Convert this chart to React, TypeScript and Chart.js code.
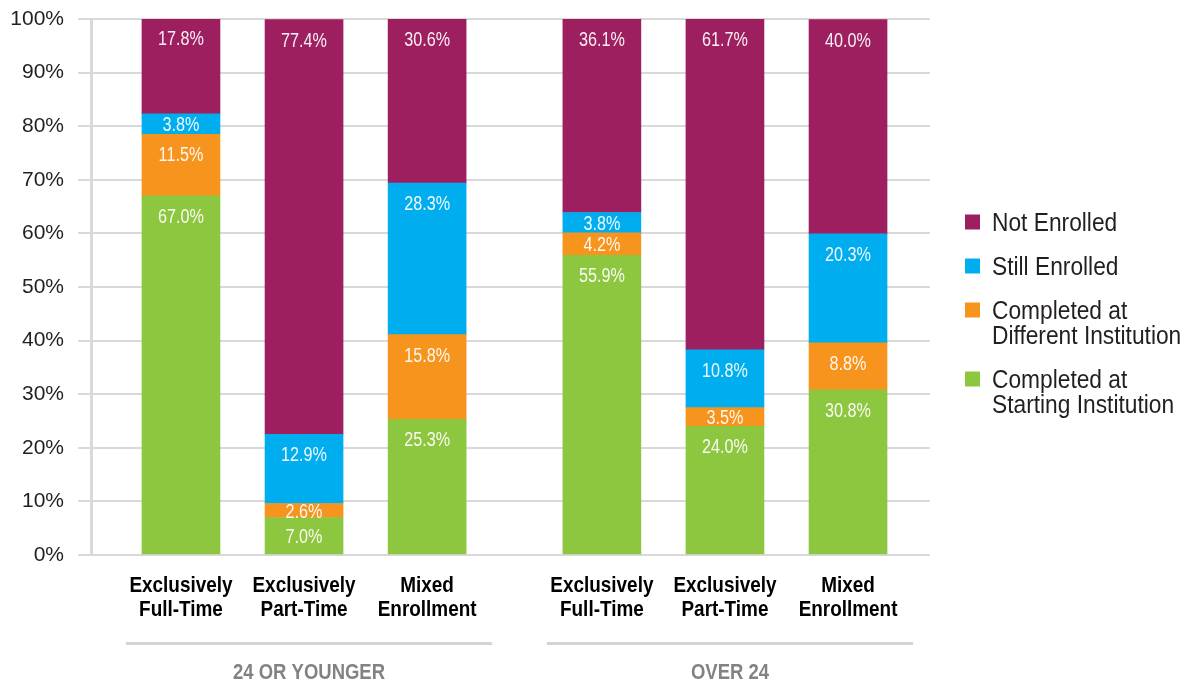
import React, { useEffect, useRef } from "react";
import { Chart, registerables } from "chart.js";

Chart.register(...registerables);

const categories: string[][] = [
  ["Exclusively", "Full-Time"],
  ["Exclusively", "Part-Time"],
  ["Mixed", "Enrollment"],
  ["Exclusively", "Full-Time"],
  ["Exclusively", "Part-Time"],
  ["Mixed", "Enrollment"],
];
const groupNames = ["24 OR YOUNGER", "OVER 24"];
const groupMembers = [[0, 1, 2], [3, 4, 5]];

const completedStarting = [67.0, 7.0, 25.3, 55.9, 24.0, 30.8];
const completedDifferent = [11.5, 2.6, 15.8, 4.2, 3.5, 8.8];
const stillEnrolled = [3.8, 12.9, 28.3, 3.8, 10.8, 20.3];
const notEnrolled = [17.8, 77.4, 30.6, 36.1, 61.7, 40.0];

const seriesNames = [
  ["Completed at", "Starting Institution"],
  ["Completed at", "Different Institution"],
  ["Still Enrolled"],
  ["Not Enrolled"],
];
const seriesColors = ["#8dc63f", "#f7941d", "#00aeef", "#9e1f60"];
const yTicks = [0, 10, 20, 30, 40, 50, 60, 70, 80, 90, 100];

const SANS = '"Liberation Sans", Arial, sans-serif';
const GROUP_GAP = 0.42;
const xOf = (i: number) => i + (i >= 3 ? GROUP_GAP : 0);

function condensedText(ctx: any, text: string, x: number, y: number, sx: number) {
  ctx.save();
  ctx.translate(x, y);
  ctx.scale(sx, 1);
  ctx.fillText(text, 0, 0);
  ctx.restore();
}

const overlayPlugin = {
  id: "overlay",
  afterDatasetsDraw(chart: any) {
    const ctx = chart.ctx;
    ctx.save();
    ctx.font = `20px ${SANS}`;
    ctx.fillStyle = "rgba(255,255,255,0.93)";
    ctx.textAlign = "center";
    ctx.textBaseline = "alphabetic";
    chart.data.datasets.forEach((ds: any, di: number) => {
      const meta = chart.getDatasetMeta(di);
      meta.data.forEach((el: any, i: number) => {
        const v = ds.data[i].y;
        const top = Math.min(el.y, el.base);
        const h = Math.abs(el.base - el.y);
        const cy = top + Math.min(20, h / 2);
        condensedText(ctx, v.toFixed(1) + "%", el.x, cy + 7, 0.81);
      });
    });
    ctx.restore();
  },
  afterDraw(chart: any) {
    const ctx = chart.ctx;
    const xs = chart.scales.x;
    const bottom = chart.chartArea.bottom;
    ctx.save();
    // category labels under each bar
    ctx.font = `bold 22px ${SANS}`;
    ctx.fillStyle = "#000000";
    ctx.textAlign = "center";
    ctx.textBaseline = "alphabetic";
    categories.forEach((lines, i) => {
      const px = xs.getPixelForValue(xOf(i));
      lines.forEach((ln, li) => {
        condensedText(ctx, ln, px, bottom + 37 + li * 24, 0.86);
      });
    });
    // group brackets
    groupMembers.forEach((members, g) => {
      const x0 = xs.getPixelForValue(xOf(members[0])) - 55;
      const x1 = xs.getPixelForValue(xOf(members[members.length - 1])) + 65;
      ctx.strokeStyle = "#d4d4d4";
      ctx.lineWidth = 3;
      ctx.beginPath();
      ctx.moveTo(x0, bottom + 88.5);
      ctx.lineTo(x1, bottom + 88.5);
      ctx.stroke();
      ctx.font = `bold 22px ${SANS}`;
      ctx.fillStyle = "#808285";
      ctx.textAlign = "center";
      condensedText(ctx, groupNames[g], (x0 + x1) / 2, bottom + 124, 0.84);
    });
    // legend
    ctx.font = `25px ${SANS}`;
    ctx.textAlign = "left";
    ctx.textBaseline = "alphabetic";
    let cy = 222;
    for (let k = seriesNames.length - 1; k >= 0; k--) {
      const lines = seriesNames[k];
      ctx.fillStyle = seriesColors[k];
      ctx.fillRect(965, cy - 7.5, 15, 15);
      ctx.fillStyle = "#231f20";
      lines.forEach((ln, li) => {
        ctx.save();
        ctx.translate(992, cy + li * 25 + 9);
        ctx.scale(0.91, 1);
        ctx.fillText(ln, 0, 0);
        ctx.restore();
      });
      cy += lines.length * 25 + 19;
    }
    ctx.restore();
  },
};

export default function App() {
  const ref = useRef<HTMLCanvasElement>(null);
  useEffect(() => {
    if (!ref.current) return;
    const seriesData = [completedStarting, completedDifferent, stillEnrolled, notEnrolled];
    const chart = new Chart(ref.current, {
      type: "bar",
      data: {
        datasets: seriesData.map((arr, k) => ({
          label: seriesNames[k].join(" "),
          data: arr.map((v, i) => ({ x: xOf(i), y: v })),
          backgroundColor: seriesColors[k],
          borderWidth: 0,
          barThickness: 78,
        })),
      },
      options: {
        animation: false,
        responsive: true,
        maintainAspectRatio: false,
        layout: { padding: { top: 19, right: 256, left: 0, bottom: 0 } },
        plugins: { legend: { display: false }, tooltip: { enabled: false } },
        scales: {
          x: {
            type: "linear",
            stacked: true,
            offset: false,
            min: -0.731,
            max: 6.086,
            grid: { display: false, drawTicks: false },
            border: { display: false },
            ticks: { display: false },
            afterFit: (scale: any) => {
              scale.height = 126;
              scale.paddingLeft = 0;
              scale.paddingRight = 0;
            },
          },
          y: {
            stacked: true,
            min: 0,
            max: 100,
            afterBuildTicks: (scale: any) => {
              scale.ticks = yTicks.map((v) => ({ value: v }));
            },
            afterFit: (scale: any) => {
              scale.width = 91;
              scale.paddingTop = 0;
              scale.paddingBottom = 0;
            },
            grid: { color: "#d9d9d9", lineWidth: 2, tickLength: 13, tickColor: "#d9d9d9", tickWidth: 2 },
            border: { display: true, color: "#d9d9d9", width: 3 },
            ticks: {
              padding: 14,
              color: "#231f20",
              font: { family: SANS, size: 21 },
              callback: (v: any) => v + "%",
            },
          },
        },
      },
      plugins: [overlayPlugin],
    });
    return () => chart.destroy();
  }, []);
  return (
    <div style={{ position: "fixed", left: 0, top: 0, width: 1186, height: 681, background: "#fff" }}>
      <canvas ref={ref} />
    </div>
  );
}
